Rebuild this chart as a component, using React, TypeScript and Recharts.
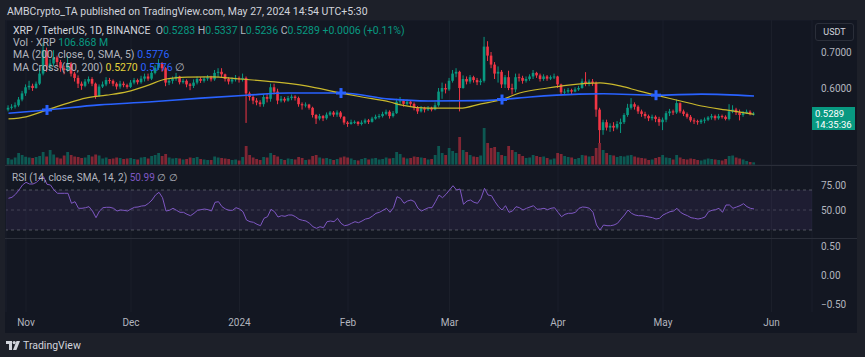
import { ComposedChart, Bar, Line, Scatter, XAxis, YAxis, CartesianGrid, ReferenceLine, ReferenceArea } from 'recharts'

// daily candles, Oct 27 2023 (index 0) .. May 27 2024 (index 213)
const firstOpen = 0.540
const closes = [
  0.545, 0.548, 0.552, 0.568, 0.585, 0.602, 0.606,
  0.600, 0.612, 0.640, 0.705, 0.660, 0.668, 0.685,
  0.672, 0.655, 0.650, 0.668, 0.640, 0.628, 0.612,
  0.606, 0.618, 0.625, 0.612, 0.578, 0.604, 0.610,
  0.622, 0.620, 0.612, 0.604, 0.612, 0.608, 0.603,
  0.615, 0.622, 0.616, 0.626, 0.632, 0.626, 0.642,
  0.656, 0.668, 0.655, 0.615, 0.620, 0.626, 0.632,
  0.616, 0.620, 0.610, 0.606, 0.615, 0.625, 0.620,
  0.626, 0.630, 0.624, 0.642, 0.645, 0.638, 0.625,
  0.618, 0.624, 0.628, 0.624, 0.628, 0.585, 0.575,
  0.565, 0.560, 0.555, 0.575, 0.570, 0.602, 0.590,
  0.565, 0.570, 0.565, 0.572, 0.576, 0.572, 0.555,
  0.552, 0.554, 0.545, 0.525, 0.515, 0.522, 0.516,
  0.526, 0.532, 0.526, 0.532, 0.520, 0.504, 0.500,
  0.505, 0.506, 0.500, 0.504, 0.510, 0.506, 0.515,
  0.520, 0.522, 0.528, 0.534, 0.522, 0.530, 0.562,
  0.565, 0.556, 0.562, 0.556, 0.546, 0.535, 0.544,
  0.540, 0.545, 0.540, 0.552, 0.590, 0.600, 0.596,
  0.620, 0.640, 0.645, 0.600, 0.625, 0.618, 0.630,
  0.622, 0.616, 0.620, 0.715, 0.690, 0.665, 0.640,
  0.645, 0.610, 0.630, 0.600, 0.596, 0.630, 0.628,
  0.620, 0.625, 0.632, 0.642, 0.635, 0.625, 0.632,
  0.626, 0.630, 0.632, 0.610, 0.588, 0.590, 0.594,
  0.590, 0.596, 0.600, 0.618, 0.612, 0.618, 0.614,
  0.540, 0.483, 0.505, 0.490, 0.495, 0.490, 0.500,
  0.505, 0.525, 0.545, 0.555, 0.548, 0.535, 0.528,
  0.522, 0.516, 0.520, 0.514, 0.505, 0.512, 0.530,
  0.535, 0.532, 0.558, 0.535, 0.528, 0.520, 0.510,
  0.508, 0.505, 0.510, 0.512, 0.518, 0.522, 0.516,
  0.522, 0.520, 0.514, 0.535, 0.540, 0.532, 0.525,
  0.530, 0.534, 0.5283, 0.5289,
]
const highs = [
  0.552, 0.555, 0.560, 0.575, 0.592, 0.610, 0.620,
  0.612, 0.618, 0.655, 0.725, 0.712, 0.680, 0.705,
  0.690, 0.678, 0.662, 0.690, 0.672, 0.645, 0.635,
  0.618, 0.625, 0.632, 0.630, 0.615, 0.610, 0.618,
  0.630, 0.628, 0.624, 0.616, 0.620, 0.618, 0.612,
  0.622, 0.628, 0.626, 0.634, 0.640, 0.640, 0.650,
  0.664, 0.680, 0.672, 0.658, 0.628, 0.632, 0.642,
  0.634, 0.626, 0.624, 0.614, 0.624, 0.632, 0.630,
  0.632, 0.636, 0.634, 0.650, 0.655, 0.655, 0.640,
  0.630, 0.630, 0.636, 0.632, 0.640, 0.632, 0.590,
  0.580, 0.572, 0.566, 0.582, 0.586, 0.612, 0.612,
  0.598, 0.578, 0.575, 0.578, 0.582, 0.580, 0.576,
  0.560, 0.560, 0.556, 0.548, 0.528, 0.528, 0.525,
  0.532, 0.536, 0.536, 0.538, 0.536, 0.522, 0.508,
  0.512, 0.510, 0.508, 0.510, 0.515, 0.514, 0.520,
  0.526, 0.528, 0.534, 0.540, 0.538, 0.536, 0.570,
  0.575, 0.568, 0.568, 0.566, 0.560, 0.550, 0.550,
  0.548, 0.550, 0.548, 0.560, 0.600, 0.615, 0.612,
  0.628, 0.650, 0.655, 0.648, 0.635, 0.632, 0.636,
  0.634, 0.628, 0.626, 0.742, 0.730, 0.700, 0.672,
  0.660, 0.650, 0.636, 0.648, 0.612, 0.640, 0.640,
  0.634, 0.632, 0.638, 0.650, 0.645, 0.640, 0.638,
  0.636, 0.635, 0.640, 0.634, 0.612, 0.598, 0.600,
  0.598, 0.602, 0.606, 0.626, 0.644, 0.624, 0.625,
  0.618, 0.545, 0.512, 0.512, 0.502, 0.505, 0.508,
  0.515, 0.530, 0.556, 0.572, 0.560, 0.552, 0.540,
  0.534, 0.526, 0.526, 0.524, 0.520, 0.518, 0.536,
  0.542, 0.540, 0.568, 0.560, 0.540, 0.532, 0.525,
  0.516, 0.512, 0.514, 0.518, 0.522, 0.528, 0.526,
  0.528, 0.526, 0.524, 0.555, 0.552, 0.545, 0.540,
  0.536, 0.540, 0.538, 0.5337,
]
const lows = [
  0.535, 0.540, 0.543, 0.548, 0.563, 0.578, 0.595,
  0.592, 0.598, 0.608, 0.635, 0.645, 0.650, 0.660,
  0.660, 0.645, 0.638, 0.645, 0.632, 0.618, 0.600,
  0.595, 0.602, 0.612, 0.605, 0.570, 0.575, 0.600,
  0.605, 0.612, 0.605, 0.596, 0.598, 0.602, 0.598,
  0.600, 0.610, 0.610, 0.612, 0.618, 0.620, 0.622,
  0.638, 0.650, 0.645, 0.605, 0.608, 0.612, 0.620,
  0.610, 0.612, 0.602, 0.594, 0.600, 0.610, 0.614,
  0.615, 0.620, 0.618, 0.620, 0.630, 0.630, 0.618,
  0.610, 0.612, 0.618, 0.615, 0.618, 0.503, 0.565,
  0.555, 0.552, 0.548, 0.548, 0.560, 0.562, 0.582,
  0.555, 0.560, 0.560, 0.562, 0.566, 0.565, 0.548,
  0.540, 0.546, 0.540, 0.518, 0.500, 0.510, 0.508,
  0.512, 0.522, 0.520, 0.520, 0.515, 0.498, 0.492,
  0.498, 0.500, 0.495, 0.496, 0.500, 0.500, 0.504,
  0.512, 0.515, 0.518, 0.524, 0.515, 0.518, 0.528,
  0.555, 0.548, 0.552, 0.550, 0.538, 0.528, 0.532,
  0.532, 0.536, 0.535, 0.538, 0.548, 0.570, 0.585,
  0.592, 0.615, 0.630, 0.535, 0.598, 0.610, 0.612,
  0.615, 0.608, 0.608, 0.615, 0.675, 0.655, 0.625,
  0.615, 0.600, 0.600, 0.594, 0.582, 0.588, 0.618,
  0.612, 0.615, 0.620, 0.625, 0.628, 0.618, 0.620,
  0.620, 0.622, 0.625, 0.600, 0.580, 0.582, 0.585,
  0.582, 0.588, 0.592, 0.598, 0.605, 0.605, 0.606,
  0.520, 0.447, 0.470, 0.482, 0.478, 0.480, 0.485,
  0.475, 0.500, 0.520, 0.540, 0.540, 0.528, 0.520,
  0.515, 0.508, 0.510, 0.505, 0.495, 0.483, 0.505,
  0.522, 0.525, 0.528, 0.530, 0.522, 0.515, 0.505,
  0.500, 0.498, 0.500, 0.502, 0.508, 0.512, 0.510,
  0.512, 0.515, 0.510, 0.510, 0.530, 0.525, 0.510,
  0.520, 0.528, 0.524, 0.5236,
]
// volume in millions of XRP
const volumes = [
  280, 220, 300, 480, 400, 330, 300,
  280, 320, 360, 520, 340, 600, 420,
  300, 260, 380, 520, 400, 340, 320,
  280, 300, 400, 340, 420, 380, 260,
  300, 240, 260, 300, 280, 240, 260,
  280, 240, 220, 300, 320, 260, 360,
  400, 480, 360, 440, 300, 260, 280,
  260, 220, 240, 300, 280, 320, 240,
  220, 200, 200, 340, 300, 280, 260,
  240, 200, 220, 180, 320, 760, 400,
  300, 240, 200, 320, 300, 480, 400,
  340, 240, 200, 260, 240, 220, 320,
  280, 200, 220, 360, 400, 300, 260,
  280, 240, 200, 240, 300, 340, 300,
  260, 200, 180, 240, 280, 220, 260,
  280, 220, 240, 300, 260, 280, 520,
  440, 300, 260, 280, 340, 320, 300,
  280, 220, 240, 400, 760, 480, 400,
  680, 560, 480, 1120, 600, 520, 400,
  340, 320, 380, 1480, 880, 680, 720,
  520, 400, 360, 760, 600, 520, 440,
  360, 280, 300, 400, 360, 320, 340,
  280, 220, 260, 480, 440, 360, 320,
  300, 240, 280, 400, 380, 340, 360,
  680, 880, 600, 480, 400, 380, 320,
  360, 340, 380, 400, 340, 300, 280,
  260, 200, 220, 280, 320, 400, 300,
  280, 220, 400, 300, 240, 220, 260,
  240, 200, 180, 220, 260, 240, 220,
  200, 180, 240, 360, 380, 300, 260,
  220, 160, 120, 106.868,
]
const rsi = [
  61.7, 62.7, 65.7, 70, 75, 77.7, 76,
  76, 77.7, 81, 83.3, 75.7, 75, 70,
  66.7, 66.7, 66.7, 66.7, 56.7, 58.3, 51.7,
  51.7, 52.3, 53.3, 49, 42.3, 49, 52.3,
  52.7, 52.7, 51.7, 49, 50, 49.7, 49,
  51, 52.7, 53, 54, 54.3, 56.7, 60,
  65, 67.7, 62.3, 49, 49.7, 51.7, 49.7,
  47.7, 47.7, 45.7, 44.3, 46.7, 49.7, 50.3,
  51, 50.3, 49, 57.7, 58.3, 53.3, 51,
  49.7, 49.7, 52.3, 51, 48.3, 40, 38.3,
  37.7, 35.7, 34.3, 41.7, 43.3, 50.7, 48.3,
  43, 44.3, 43.7, 45, 45, 43.3, 40.7,
  39.7, 39, 36.7, 33.3, 31.7, 33.3, 32.3,
  38.3, 39, 38.3, 41.7, 36.7, 34.3, 35,
  36.7, 38.3, 37.3, 39, 41, 41.7, 44,
  46.7, 47.7, 49.7, 51.7, 47.7, 52.3, 63.3,
  61.7, 56.7, 59, 60, 58.3, 51.7, 49,
  50.7, 52.3, 52.3, 58.3, 65, 62.3, 65.7,
  70, 74.3, 70, 71, 55.7, 59, 60,
  57.7, 56.7, 61.7, 71.7, 65, 64.3, 58.3,
  53.3, 50, 54.3, 47.7, 49, 53.3, 52.3,
  50, 51.7, 53, 54.3, 50.7, 51, 51.7,
  50.3, 51.7, 52.3, 47.7, 43.3, 45.7, 46.7,
  46.7, 47.7, 51.7, 53, 52.7, 51.7, 47.7,
  35, 30, 35, 34.3, 34.3, 35, 36.7,
  41, 45, 50, 46.7, 45, 44.3, 44.3,
  43.7, 43, 42.3, 41, 41.7, 45, 46.7,
  48.3, 49, 51.7, 47.7, 45.7, 44.3, 42.3,
  41.7, 41, 41.7, 43, 48.3, 49.7, 50.3,
  51.7, 47.7, 55, 55, 51.7, 53, 54.3,
  56.3, 53.3, 51.7, 50.99,
]

const ma50Days = [0, 5, 11, 17, 22, 28, 34, 40, 45, 51, 58, 66, 76, 85, 95, 101, 109, 112, 120, 129, 135, 141, 146, 154, 160, 169, 175, 180, 185, 192, 198, 205, 213]
const ma50Values = [0.514, 0.520, 0.539, 0.558, 0.572, 0.580, 0.590, 0.608, 0.625, 0.630, 0.631, 0.625, 0.617, 0.606, 0.586, 0.575, 0.561, 0.553, 0.544, 0.544, 0.556, 0.568, 0.586, 0.600, 0.608, 0.614, 0.605, 0.592, 0.580, 0.564, 0.550, 0.539, 0.527]
const ma200Days = [0, 11, 26, 40, 55, 68, 80, 95, 109, 120, 135, 141, 149, 163, 170, 185, 198, 213]
const ma200Values = [0.530, 0.539, 0.553, 0.561, 0.572, 0.580, 0.586, 0.586, 0.569, 0.564, 0.565, 0.568, 0.575, 0.583, 0.584, 0.580, 0.583, 0.5776]
const crossDays = [11, 95, 141, 185]
const crossValues = [0.539, 0.586, 0.568, 0.580]

const monthTicks = [5, 35, 66, 97, 126, 157, 187, 218]
const monthLabels = ['Nov', 'Dec', '2024', 'Feb', 'Mar', 'Apr', 'May', 'Jun']
const priceTicks = [0.4, 0.5, 0.6, 0.7]
const rsiTicks = [25, 50, 75]
const paneTicks = [-0.5, 0, 0.5]

const UP = '#089981'
const DOWN = '#f23645'
const TEXT = '#b2b5be'
const FONT = 'Roboto, "Noto Sans", sans-serif'

const W = 857
const X_DOMAIN: [number, number] = [-0.714, 229.57]
const PRICE_DOMAIN: [number, number] = [0.3861, 0.7889]
const MAIN_TOP = 20
const MAIN_H = 145

const candles = closes.map((c, i) => ({
  d: i,
  o: i === 0 ? firstOpen : closes[i - 1],
  h: highs[i],
  l: lows[i],
  c,
  range: [lows[i], highs[i]],
}))
const volData = volumes.map((v, i) => ({ d: i, v, up: candles[i].c >= candles[i].o }))
const rsiData = rsi.map((v, i) => ({ d: i, v }))
const ma50 = ma50Days.map((d, i) => ({ d, v: ma50Values[i] }))
const ma200 = ma200Days.map((d, i) => ({ d, v: ma200Values[i] }))
const crosses = crossDays.map((d, i) => ({ d, v: crossValues[i] }))

const last = candles[candles.length - 1]

const Candle = (props: any) => {
  const { x, y, width, height, payload } = props
  if (!payload || height == null) return null
  const { o, c, h, l } = payload
  const color = c >= o ? UP : DOWN
  const ratio = height / (h - l)
  const cx = x + width / 2
  const top = y + (h - Math.max(o, c)) * ratio
  const bodyH = Math.max(Math.abs(o - c) * ratio, 1)
  return (
    <g>
      <line x1={cx} x2={cx} y1={y} y2={y + height} stroke={color} strokeWidth={1} />
      <rect x={x} y={top} width={width} height={bodyH} fill={color} />
    </g>
  )
}

const VolBar = (props: any) => {
  const { x, y, width, height, payload } = props
  if (!payload) return null
  return <rect x={x} y={y} width={width} height={height} fill={payload.up ? UP : DOWN} fillOpacity={0.5} />
}

const CrossMark = (props: any) => {
  const { cx, cy } = props
  return (
    <g stroke="#2962ff" strokeWidth={3}>
      <line x1={cx - 5} x2={cx + 5} y1={cy} y2={cy} />
      <line x1={cx} x2={cx} y1={cy - 5} y2={cy + 5} />
    </g>
  )
}

const tickStyle = { fill: TEXT, fontSize: 10, fontFamily: FONT }

const Label = ({ top, children }: { top: number; children: any }) => (
  <div style={{ position: 'absolute', left: 13, top, fontSize: 10.5, lineHeight: '12px', color: '#d1d4dc', whiteSpace: 'nowrap' }}>
    {children}
  </div>
)

export default function App() {
  const priceTop = MAIN_TOP + ((PRICE_DOMAIN[1] - last.c) / (PRICE_DOMAIN[1] - PRICE_DOMAIN[0])) * MAIN_H
  return (
    <div style={{ position: 'absolute', left: 0, top: 0, width: 865, height: 357, background: '#1d2029', fontFamily: FONT, overflow: 'hidden' }}>
      <div style={{ position: 'absolute', left: 7, top: 5, fontSize: 10.5, color: '#d1d4dc', whiteSpace: 'nowrap' }}>
        AMBCrypto_TA published on TradingView.com, May 27, 2024 14:54 UTC+5:30
      </div>
      <div style={{ position: 'absolute', left: 5, top: 20, width: 852, height: 313, background: '#131722' }} />

      {/* volume layer */}
      <div style={{ position: 'absolute', left: 0, top: MAIN_TOP }}>
        <ComposedChart width={W} height={MAIN_H} data={volData} margin={{ top: 0, right: 45, bottom: 0, left: 6 }}>
          <CartesianGrid stroke="#1b1f2a" horizontal={false} />
          <XAxis dataKey="d" type="number" domain={X_DOMAIN} ticks={monthTicks} hide allowDataOverflow />
          <YAxis yAxisId="v" domain={[0, 5800]} hide allowDataOverflow />
          <Bar yAxisId="v" dataKey="v" barSize={2.8} shape={VolBar} isAnimationActive={false} />
        </ComposedChart>
      </div>

      {/* price layer */}
      <div style={{ position: 'absolute', left: 0, top: MAIN_TOP }}>
        <ComposedChart width={W} height={MAIN_H} data={candles} margin={{ top: 0, right: 0, bottom: 0, left: 6 }}>
          <CartesianGrid stroke="#1b1f2a" vertical={false} />
          <XAxis dataKey="d" type="number" domain={X_DOMAIN} ticks={monthTicks} hide allowDataOverflow />
          <YAxis
            yAxisId="p"
            orientation="right"
            type="number"
            domain={PRICE_DOMAIN}
            ticks={priceTicks}
            tickFormatter={(v: number) => (v === 0.5 ? '' : v.toFixed(4))}
            width={45}
            axisLine={false}
            tickLine={false}
            tickMargin={3}
            tick={tickStyle}
            allowDataOverflow
          />
          <Line yAxisId="p" data={ma200} dataKey="v" type="monotone" stroke="#2962ff" strokeWidth={1.6} dot={false} isAnimationActive={false} />
          <Line yAxisId="p" data={ma50} dataKey="v" type="monotone" stroke="#c9b82c" strokeWidth={1.2} dot={false} isAnimationActive={false} />
          <Bar yAxisId="p" dataKey="range" barSize={2.6} shape={Candle} isAnimationActive={false} />
          <Scatter yAxisId="p" data={crosses} dataKey="v" shape={CrossMark} isAnimationActive={false} />
        </ComposedChart>
      </div>

      <Label top={25}>
        XRP / TetherUS, 1D, BINANCE&nbsp;&nbsp;
        <span style={{ color: TEXT }}>O</span><span style={{ color: UP }}>0.5283</span>{' '}
        <span style={{ color: TEXT }}>H</span><span style={{ color: UP }}>0.5337</span>{' '}
        <span style={{ color: TEXT }}>L</span><span style={{ color: UP }}>0.5236</span>{' '}
        <span style={{ color: TEXT }}>C</span><span style={{ color: UP }}>0.5289</span>{' '}
        <span style={{ color: UP }}>+0.0006 (+0.11%)</span>
      </Label>
      <Label top={37}>
        <span style={{ color: TEXT }}>Vol · XRP</span> <span style={{ color: UP }}>106.868 M</span>
      </Label>
      <Label top={49}>
        <span style={{ color: TEXT }}>MA (200, close, 0, SMA, 5)</span> <span style={{ color: '#2962ff' }}>0.5776</span>
      </Label>
      <Label top={62}>
        <span style={{ color: TEXT }}>MA Cross (50, 200)</span> <span style={{ color: '#e5d33b' }}>0.5270</span>{' '}
        <span style={{ color: '#2962ff' }}>0.5776</span> <span style={{ color: TEXT }}>∅</span>
      </Label>

      <div style={{ position: 'absolute', left: 815, top: 23, width: 37, height: 16, border: '1px solid #2a2e39', borderRadius: 3, color: '#d1d4dc', fontSize: 9, lineHeight: '16px', textAlign: 'center' }}>
        USDT
      </div>
      <div style={{ position: 'absolute', left: 812, top: priceTop - 7, width: 43, height: 23, background: UP, color: '#ffffff', fontSize: 9.5, lineHeight: '11px', paddingLeft: 3, boxSizing: 'border-box', paddingTop: 1 }}>
        {last.c.toFixed(4)}
        <br />
        14:35:36
      </div>

      <div style={{ position: 'absolute', left: 5, top: 165, width: 852, height: 1, background: '#2a2e39' }} />

      {/* RSI pane */}
      <div style={{ position: 'absolute', left: 0, top: 166 }}>
        <ComposedChart width={W} height={72} data={rsiData} margin={{ top: 0, right: 0, bottom: 0, left: 6 }}>
          <CartesianGrid stroke="#1b1f2a" horizontal={false} />
          <XAxis dataKey="d" type="number" domain={X_DOMAIN} ticks={monthTicks} hide allowDataOverflow />
          <YAxis
            orientation="right"
            type="number"
            domain={[22, 94]}
            ticks={rsiTicks}
            tickFormatter={(v: number) => v.toFixed(2)}
            width={45}
            axisLine={false}
            tickLine={false}
            tickMargin={3}
            tick={tickStyle}
            allowDataOverflow
          />
          <ReferenceArea y1={30} y2={70} fill="#7e57c2" fillOpacity={0.1} stroke="none" />
          <ReferenceLine y={70} stroke="#787b86" strokeOpacity={0.6} strokeDasharray="3 3" />
          <ReferenceLine y={50} stroke="#787b86" strokeOpacity={0.4} strokeDasharray="3 3" />
          <ReferenceLine y={30} stroke="#787b86" strokeOpacity={0.6} strokeDasharray="3 3" />
          <Line dataKey="v" type="linear" stroke="#7e57c2" strokeWidth={1} dot={false} isAnimationActive={false} />
        </ComposedChart>
      </div>
      <div style={{ position: 'absolute', left: 12, top: 172, fontSize: 10, lineHeight: '12px', color: TEXT, whiteSpace: 'nowrap' }}>
        RSI (14, close, SMA, 14, 2) <span style={{ color: '#7e57c2' }}>50.99</span> ∅ ∅
      </div>

      <div style={{ position: 'absolute', left: 5, top: 238, width: 852, height: 1, background: '#2a2e39' }} />

      {/* empty pane + time axis */}
      <div style={{ position: 'absolute', left: 0, top: 239 }}>
        <ComposedChart width={W} height={93} data={rsiData} margin={{ top: 0, right: 0, bottom: 0, left: 6 }}>
          <CartesianGrid stroke="#1b1f2a" horizontal={false} />
          <XAxis
            dataKey="d"
            type="number"
            domain={X_DOMAIN}
            ticks={monthTicks}
            tickFormatter={(v: number) => monthLabels[monthTicks.indexOf(v)] ?? ''}
            height={20}
            axisLine={false}
            tickLine={false}
            tickMargin={1}
            tick={tickStyle}
            allowDataOverflow
          />
          <YAxis
            orientation="right"
            type="number"
            domain={[-0.627, 0.627]}
            ticks={paneTicks}
            tickFormatter={(v: number) => (v < 0 ? '−' + Math.abs(v).toFixed(2) : v.toFixed(2))}
            width={45}
            axisLine={false}
            tickLine={false}
            tickMargin={3}
            tick={tickStyle}
            allowDataOverflow
          />
        </ComposedChart>
      </div>

      <div style={{ position: 'absolute', left: 6, top: 339, display: 'flex', alignItems: 'center', gap: 3, color: '#d1d4dc', fontSize: 10.5 }}>
        <svg width="14" height="9" viewBox="0 0 14 9">
          <path d="M0 0h6v9H3V3H0z" fill="#d1d4dc" />
          <circle cx="8.2" cy="1.6" r="1.6" fill="#d1d4dc" />
          <path d="M10.5 0H14l-3.6 9H7z" fill="#d1d4dc" />
        </svg>
        TradingView
      </div>
    </div>
  )
}
